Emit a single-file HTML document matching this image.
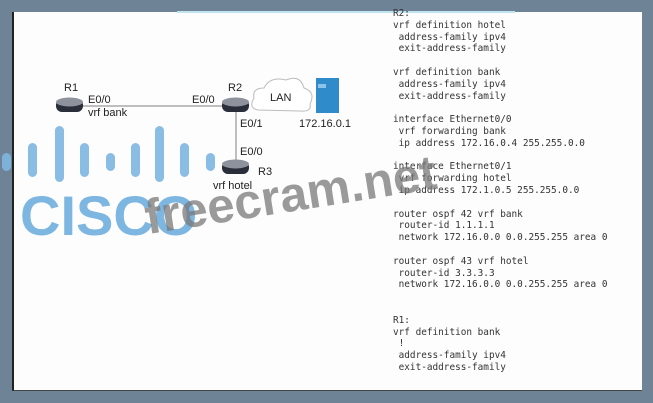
<!DOCTYPE html>
<html><head><style>
body{margin:0;width:653px;height:403px;background:#6e8396;position:relative;overflow:hidden;font-family:"Liberation Sans",sans-serif}
.panel{position:absolute;left:12px;top:12px;width:628px;height:378px;background:#fdfdfd;border-left:2px solid #222;border-bottom:1px solid #444}
.topline{position:absolute;left:177px;top:11px;width:338px;height:2px;background:#bfe3ef}
.code{position:absolute;left:393px;top:8px;font-family:"DejaVu Sans Mono","Liberation Mono",monospace;font-size:9.4px;line-height:11.8px;color:#333;white-space:pre}
.lbl{position:absolute;font-size:11px;color:#222}
.bar{position:absolute;background:#7db6e0;border-radius:5px;opacity:.9}
</style></head><body>
<div class="panel"></div>
<div class="topline"></div>
<div class="code">R2:
vrf definition hotel
 address-family ipv4
 exit-address-family

vrf definition bank
 address-family ipv4
 exit-address-family

interface Ethernet0/0
 vrf forwarding bank
 ip address 172.16.0.4 255.255.0.0

interface Ethernet0/1
 vrf forwarding hotel
 ip address 172.1.0.5 255.255.0.0

router ospf 42 vrf bank
 router-id 1.1.1.1
 network 172.16.0.0 0.0.255.255 area 0

router ospf 43 vrf hotel
 router-id 3.3.3.3
 network 172.16.0.0 0.0.255.255 area 0


R1:
vrf definition bank
 !
 address-family ipv4
 exit-address-family</div>
<svg width="653" height="403" style="position:absolute;left:0;top:0">
<line x1="80" y1="106" x2="224" y2="106" stroke="#aaa" stroke-width="1.5"/>
<line x1="236" y1="110" x2="236" y2="162" stroke="#aaa" stroke-width="1.5"/>
<g><rect x="56" y="99" width="27" height="13" rx="6" fill="#2a2e3a"/><ellipse cx="69.5" cy="102" rx="13.5" ry="4.5" fill="#8d929c"/></g>
<g><rect x="222" y="99" width="27" height="13" rx="6" fill="#2a2e3a"/><ellipse cx="235.5" cy="102" rx="13.5" ry="4.5" fill="#8d929c"/></g>
<g><rect x="222" y="161" width="27" height="13" rx="6" fill="#2a2e3a"/><ellipse cx="235.5" cy="164" rx="13.5" ry="4.5" fill="#8d929c"/></g>
<path d="M258 110 Q248 108 254 98 Q252 88 264 88 Q270 76 286 80 Q300 74 304 88 Q316 92 310 104 Q312 112 300 111 Z" fill="#fff" stroke="#bbb" stroke-width="1"/>
<rect x="316" y="78" width="23" height="35" fill="#2f8bc9"/>
<rect x="318" y="84" width="8" height="4" fill="#8cc4ea"/>
</svg>
<div class="lbl" style="left:64px;top:82px">R1</div>
<div class="lbl" style="left:88px;top:94px">E0/0</div>
<div class="lbl" style="left:88px;top:107px">vrf bank</div>
<div class="lbl" style="left:192px;top:94px">E0/0</div>
<div class="lbl" style="left:228px;top:82px">R2</div>
<div class="lbl" style="left:270px;top:92px">LAN</div>
<div class="lbl" style="left:299px;top:118px">172.16.0.1</div>
<div class="lbl" style="left:240px;top:118px">E0/1</div>
<div class="lbl" style="left:240px;top:146px">E0/0</div>
<div class="lbl" style="left:258px;top:166px">R3</div>
<div class="lbl" style="left:213px;top:180px">vrf hotel</div>
<div class="bar" style="left:2px;top:153px;width:9px;height:18px"></div>
<div class="bar" style="left:28px;top:143px;width:9px;height:34px"></div>
<div class="bar" style="left:55px;top:126px;width:9px;height:56px"></div>
<div class="bar" style="left:80px;top:143px;width:9px;height:34px"></div>
<div class="bar" style="left:106px;top:153px;width:9px;height:18px"></div>
<div class="bar" style="left:131px;top:143px;width:9px;height:34px"></div>
<div class="bar" style="left:155px;top:126px;width:9px;height:56px"></div>
<div class="bar" style="left:180px;top:143px;width:9px;height:34px"></div>
<div class="bar" style="left:206px;top:153px;width:9px;height:18px"></div>
<div style="position:absolute;left:20px;top:186px;font-size:56px;font-weight:bold;color:#7db6e0;letter-spacing:0px;line-height:60px">CISCO</div>
<div style="position:absolute;left:150px;top:188px;font-size:49px;font-weight:bold;color:rgba(120,120,120,.75);transform:rotate(-9deg);transform-origin:left bottom;line-height:60px">freecram.net</div>
</body></html>
